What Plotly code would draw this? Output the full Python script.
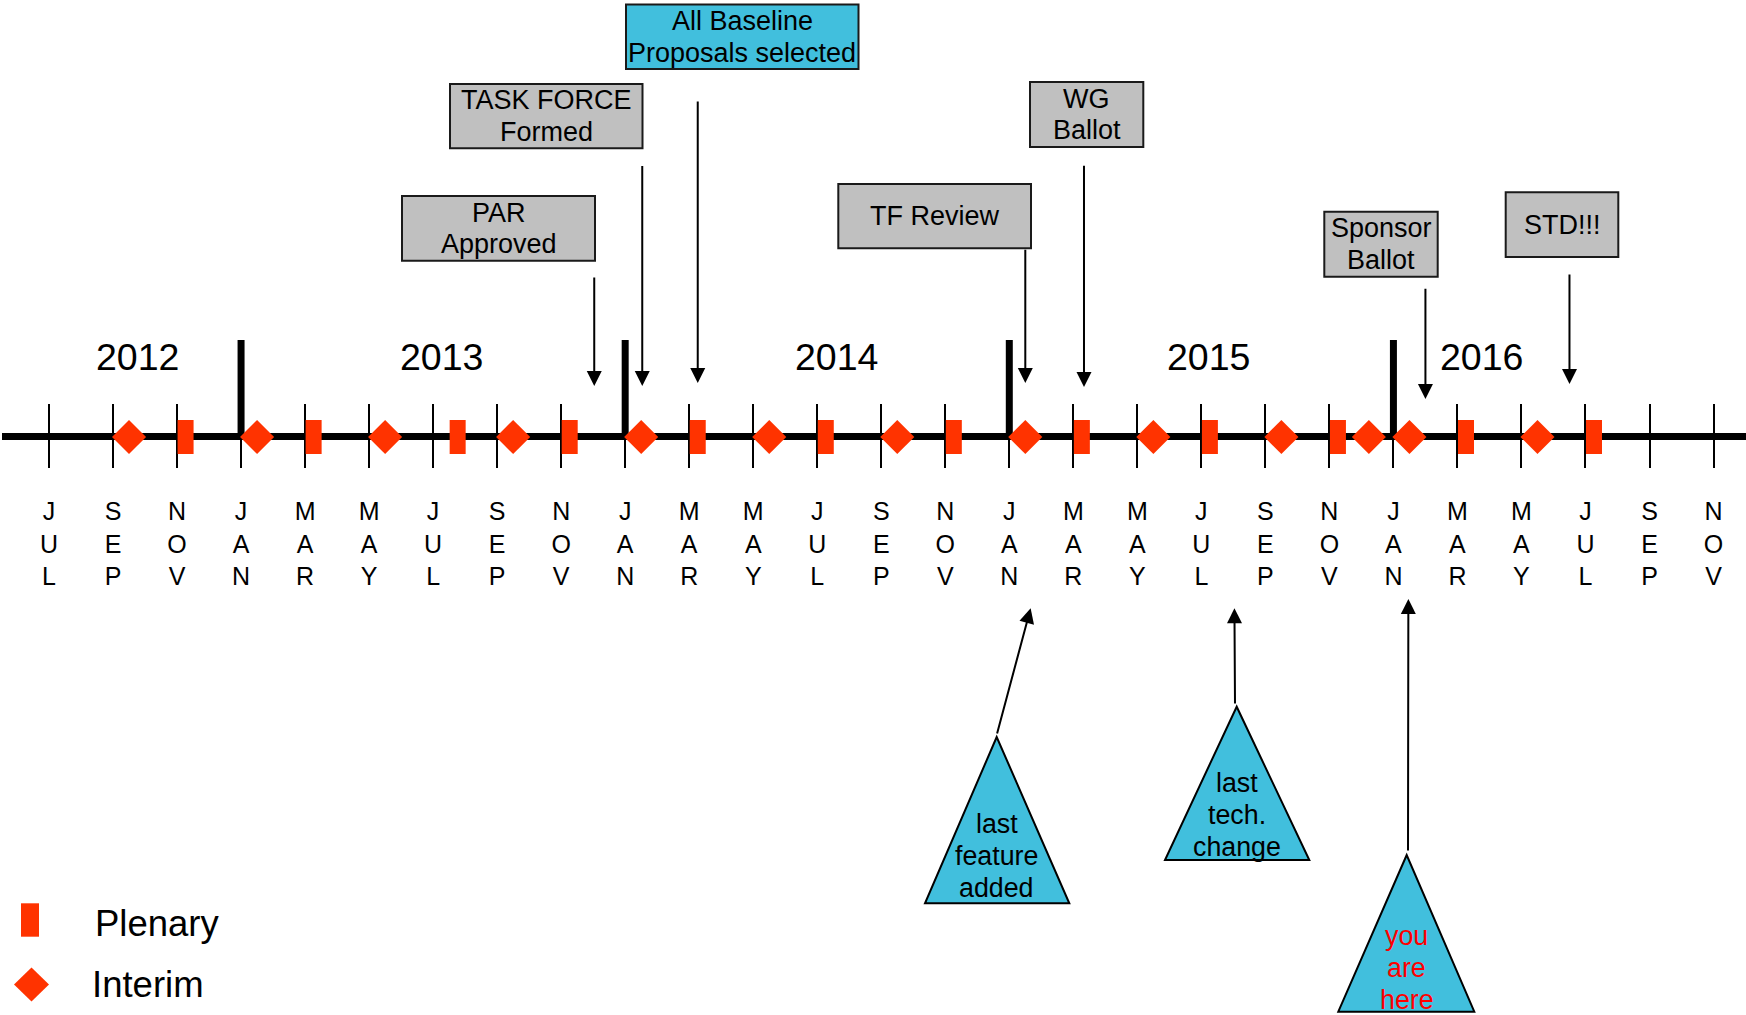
import plotly.graph_objects as go

W, H = 1746, 1015
FONT = "Liberation Sans, Arial, Helvetica, sans-serif"
RED = "#FF3300"
CYAN = "#41BFDD"
GRAY = "#C0C0C0"
EDGE = "#1a1a1a"

# ---------------- data ----------------
# month ticks, counted in months after JUL 2012
tick_month_idx = list(range(0, 53, 2))
tick_labels = ["JUL", "SEP", "NOV", "JAN", "MAR", "MAY",
               "JUL", "SEP", "NOV", "JAN", "MAR", "MAY",
               "JUL", "SEP", "NOV", "JAN", "MAR", "MAY",
               "JUL", "SEP", "NOV", "JAN", "MAR", "MAY",
               "JUL", "SEP", "NOV"]

years = ["2012", "2013", "2014", "2015", "2016"]
year_label_month = [2.77, 12.26, 24.59, 36.23, 44.74]
year_start_dates = ["2013-01-01", "2014-01-01", "2015-01-01", "2016-01-01"]

plenary_dates = ["2012-11-09", "2013-03-09", "2013-07-24", "2013-11-09",
                 "2014-03-09", "2014-07-09", "2014-11-09", "2015-03-09",
                 "2015-07-09", "2015-11-09", "2016-03-09", "2016-07-09"]
interim_dates = ["2012-09-16", "2013-01-16", "2013-05-16", "2013-09-16",
                 "2014-01-16", "2014-05-16", "2014-09-16", "2015-01-16",
                 "2015-05-16", "2015-09-16", "2015-12-08", "2016-01-16",
                 "2016-05-16"]

milestone_labels = ["PAR<br>Approved", "TASK FORCE<br>Formed",
                    "All Baseline<br>Proposals selected", "TF Review",
                    "WG<br>Ballot", "Sponsor<br>Ballot", "STD!!!"]
milestone_dates = ["2013-12-02", "2014-01-17", "2014-03-09", "2015-01-16",
                   "2015-03-11", "2016-02-01", "2016-06-16"]

callout_labels = ["last<br>feature<br>added", "last<br>tech.<br>change",
                  "you<br>are<br>here"]
callout_dates = ["2015-01-21", "2015-08-02", "2016-01-15"]

legend_labels = ["Plenary", "Interim"]


def month_index(s):
    y, m, d = (int(v) for v in s.split("-"))
    return (y - 2012) * 12 + (m - 7) + (d - 1) / 30.0


# ---------------- layout geometry (pixels) ----------------
X_LEFT_PX, PX_PER_MONTH = 49.0, 32.01
x_range = [-X_LEFT_PX / PX_PER_MONTH, (W - X_LEFT_PX) / PX_PER_MONTH]
AXIS_Y = 436.5
MARK_Y = 437
TICK_TOP, TICK_BOT = 404, 468
LINE_STEP = 31.7   # text line spacing of the boxed labels


def px(x):
    return x / W


def py(y):
    return 1 - y / H


def m2px(m):
    return (m - x_range[0]) / (x_range[1] - x_range[0]) * W


box_rects = [(402, 196, 595, 260.7), (450, 84, 642.5, 148.3),
             (626, 4.5, 858.5, 69), (838.3, 184, 1031, 248.3),
             (1030, 82, 1143.3, 147), (1324.3, 211.7, 1437.7, 276.7),
             (1505.7, 192.3, 1618.3, 257)]
box_fill = [GRAY, GRAY, CYAN, GRAY, GRAY, GRAY, GRAY]
arrow_tail_y = [276, 164.5, 100, 248.3, 164.3, 287.3, 273]
arrow_tip_y = [386, 386, 383, 383, 387, 399, 384]

tri_apex = [(996.7, 737), (1236.7, 706.7), (1406.7, 855)]
tri_base = [(925, 1069.3, 903.3), (1165, 1309.3, 860), (1338.3, 1474.3, 1011.7)]
tri_text_y = [856, 815, 968]
tri_text_color = ["black", "black", "#FF0000"]
callout_tail = [(996.7, 735), (1235, 705), (1408, 852)]
callout_tip_y = [608.3, 608.3, 599]


def text_lines(label, cx, cy, size, color):
    """one annotation per line so that the line spacing follows the original"""
    parts = label.split("<br>")
    n = len(parts)
    out = []
    for i, t in enumerate(parts):
        yy = cy + (i - (n - 1) / 2) * LINE_STEP
        out.append(dict(text=t, xref="paper", yref="paper", x=px(cx), y=py(yy),
                        showarrow=False, xanchor="center", yanchor="middle",
                        font=dict(size=size, family=FONT, color=color)))
    return out


fig = go.Figure()

# markers on the timeline
plen_x = [month_index(d) for d in plenary_dates]
int_x = [month_index(d) for d in interim_dates]
fig.add_trace(go.Scatter(
    x=plen_x, y=[MARK_Y] * len(plen_x), mode="markers", name="Plenary",
    marker=dict(symbol="line-ns", size=24.3, color=RED,
                line=dict(width=16, color=RED)),
    cliponaxis=False, hoverinfo="skip", showlegend=False))
fig.add_trace(go.Scatter(
    x=int_x, y=[MARK_Y] * len(int_x), mode="markers", name="Interim",
    marker=dict(symbol="diamond", size=26.2, color=RED, line=dict(width=0)),
    cliponaxis=False, hoverinfo="skip", showlegend=False))

shapes = []
# main timeline bar
shapes.append(dict(type="line", xref="paper", yref="paper", x0=px(2), x1=1,
                   y0=py(AXIS_Y), y1=py(AXIS_Y), line=dict(color="black", width=7),
                   layer="below"))
# year separators
for d in year_start_dates:
    m = month_index(d)
    shapes.append(dict(type="line", xref="x", yref="paper", x0=m, x1=m,
                       y0=py(340), y1=py(AXIS_Y), line=dict(color="black", width=7),
                       layer="below"))
# milestone boxes
for (x0, y0, x1, y1), fc in zip(box_rects, box_fill):
    shapes.append(dict(type="rect", xref="paper", yref="paper",
                       x0=px(x0), x1=px(x1), y0=py(y1), y1=py(y0),
                       fillcolor=fc, line=dict(color=EDGE, width=2), layer="above"))
# call-out triangles
for (ax_, ay_), (bl, br, by) in zip(tri_apex, tri_base):
    path = "M {:.5f},{:.5f} L {:.5f},{:.5f} L {:.5f},{:.5f} Z".format(
        px(ax_), py(ay_), px(bl), py(by), px(br), py(by))
    shapes.append(dict(type="path", xref="paper", yref="paper", path=path,
                       fillcolor=CYAN, line=dict(color="black", width=2), layer="above"))
# legend glyphs
shapes.append(dict(type="rect", xref="paper", yref="paper",
                   x0=px(21), x1=px(39), y0=py(936.7), y1=py(903.3),
                   fillcolor=RED, line=dict(width=0)))
cx, cy, hw, hh = 31.5, 984.5, 17.5, 17
shapes.append(dict(type="path", xref="paper", yref="paper",
                   path="M {:.5f},{:.5f} L {:.5f},{:.5f} L {:.5f},{:.5f} L {:.5f},{:.5f} Z".format(
                       px(cx - hw), py(cy), px(cx), py(cy - hh), px(cx + hw), py(cy), px(cx), py(cy + hh)),
                   fillcolor=RED, line=dict(width=0)))

annotations = []
# year labels
for lab, m in zip(years, year_label_month):
    annotations.append(dict(text=lab, xref="x", yref="paper", x=m, y=py(357.5),
                            showarrow=False, xanchor="center", yanchor="middle",
                            font=dict(size=37.5, family=FONT, color="black")))
# milestone box texts + arrows
for lab, d, (x0, y0, x1, y1), ty, tip in zip(milestone_labels, milestone_dates,
                                             box_rects, arrow_tail_y, arrow_tip_y):
    annotations.extend(text_lines(lab, (x0 + x1) / 2, (y0 + y1) / 2, 27, "black"))
    annotations.append(dict(text="", xref="x", yref="paper", x=month_index(d), y=py(tip),
                            showarrow=True, axref="pixel", ayref="pixel",
                            ax=0, ay=ty - tip, arrowhead=2, arrowsize=1.5,
                            arrowwidth=2, arrowcolor="black"))
# call-out texts + arrows
for lab, d, (apx, apy), tx_y, col, (tx, tyy), tip in zip(
        callout_labels, callout_dates, tri_apex, tri_text_y, tri_text_color,
        callout_tail, callout_tip_y):
    annotations.extend(text_lines(lab, apx, tx_y, 26.8, col))
    m = month_index(d)
    annotations.append(dict(text="", xref="x", yref="paper", x=m, y=py(tip),
                            showarrow=True, axref="pixel", ayref="pixel",
                            ax=tx - m2px(m), ay=tyy - tip, arrowhead=2, arrowsize=1.5,
                            arrowwidth=2, arrowcolor="black"))
# legend labels
for lab, lx, ly in zip(legend_labels, [93, 90], [923, 984]):
    annotations.append(dict(text=lab, xref="paper", yref="paper", x=px(lx), y=py(ly),
                            showarrow=False, xanchor="left", yanchor="middle",
                            font=dict(size=36.5, family=FONT, color="black")))

fig.update_layout(
    width=W, height=H, margin=dict(l=0, r=0, t=0, b=0),
    paper_bgcolor="white", plot_bgcolor="rgba(0,0,0,0)", showlegend=False,
    xaxis=dict(range=x_range, domain=[0, 1], tickmode="array",
               tickvals=tick_month_idx,
               ticktext=["<br>".join(t) for t in tick_labels],
               showgrid=True, gridcolor="black", gridwidth=2,
               zeroline=False, showline=False, ticks="", tickangle=0,
               tickfont=dict(size=25, family=FONT, color="black"),
               ticklabelstandoff=26, fixedrange=True),
    yaxis=dict(range=[TICK_BOT, TICK_TOP], domain=[py(TICK_BOT), py(TICK_TOP)],
               visible=False, fixedrange=True),
    shapes=shapes, annotations=annotations,
)

fig.write_html("out.html", config={"displayModeBar": False},
               post_script="document.body.style.margin='0';document.body.style.padding='0';")
